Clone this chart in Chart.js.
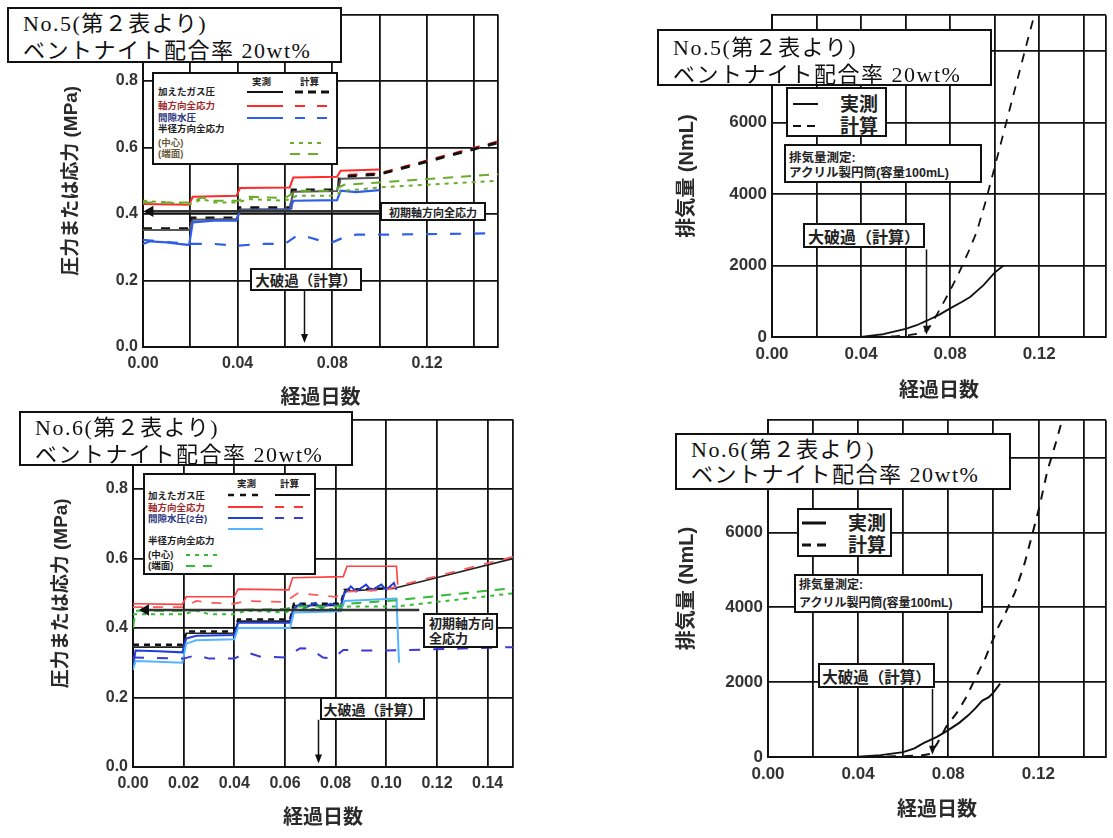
<!DOCTYPE html>
<html lang="ja">
<head>
<meta charset="utf-8">
<title>No.5 / No.6 ガス移行試験</title>
<script src="https://cdn.jsdelivr.net/npm/chart.js@4"></script>
<style>
  html, body { margin: 0; padding: 0; background: #fff; }
  body { width: 1113px; height: 838px; position: relative; overflow: hidden; }
  canvas { position: absolute; }
  .box { position: absolute; background: #fff; border: 2px solid #111; box-sizing: border-box; }
  .title { font-family: "Liberation Serif", "Noto Sans CJK JP", serif; font-size: 22px; line-height: 27px;
           letter-spacing: 1.5px; color: #111; padding-left: 14px; white-space: nowrap; }
  .note { font-family: "Liberation Sans", "Noto Sans CJK JP", sans-serif; font-weight: bold; color: #222;
          display: flex; align-items: center; justify-content: center; white-space: nowrap; }
  .lg { font-family: "Liberation Sans", "Noto Sans CJK JP", sans-serif; font-weight: bold; color: #222; }
  .lg span { position: absolute; white-space: nowrap; line-height: 1; transform: translateY(-50%); }
  .lg svg { position: absolute; left: 0; top: 0; }
</style>
</head>
<body>
<canvas id="no5Stress" width="505" height="420" style="left:0;top:0"></canvas>
<canvas id="no6Stress" width="520" height="433" style="left:0;top:405px"></canvas>
<canvas id="no5Gas" width="513" height="420" style="left:600px;top:0"></canvas>
<canvas id="no6Gas" width="513" height="433" style="left:600px;top:405px"></canvas>

<!-- No.5 pressure / stress panel -->
<div class="box lg" style="left:152px;top:72px;width:186px;height:93px;font-size:9.5px">
  <svg width="186" height="93">
    <line x1="93" y1="18" x2="129" y2="18" stroke="#111" stroke-width="2"/>
    <line x1="141" y1="18" x2="179" y2="18" stroke="#111" stroke-width="3" stroke-dasharray="8,5"/>
    <line x1="93" y1="32" x2="129" y2="32" stroke="#ff2a2a" stroke-width="2"/>
    <line x1="141" y1="32" x2="179" y2="32" stroke="#ff2a2a" stroke-width="2" stroke-dasharray="10,12"/>
    <line x1="93" y1="44" x2="129" y2="44" stroke="#2f5fe8" stroke-width="2"/>
    <line x1="141" y1="44" x2="179" y2="44" stroke="#2f5fe8" stroke-width="2" stroke-dasharray="10,12"/>
    <line x1="136" y1="69" x2="171" y2="69" stroke="#6aad2a" stroke-width="2" stroke-dasharray="4,5"/>
    <line x1="136" y1="80" x2="171" y2="80" stroke="#6aad2a" stroke-width="2" stroke-dasharray="10,8"/>
  </svg>
  <span style="left:98px;top:8px">実測</span>
  <span style="left:146px;top:8px">計算</span>
  <span style="left:4px;top:18px">加えたガス圧</span>
  <span style="left:4px;top:32px;color:#a02a2a">軸方向全応力</span>
  <span style="left:4px;top:44px;color:#2a3380">間隙水圧</span>
  <span style="left:4px;top:55px">半径方向全応力</span>
  <span style="left:4px;top:69px;color:#6a5a3a">(中心)</span>
  <span style="left:4px;top:80px;color:#6a5a3a">(端面)</span>
</div>
<div class="box note" style="left:380px;top:202px;width:106px;height:19px;font-size:11px">初期軸方向全応力</div>
<div class="box note" style="left:250px;top:268px;width:112px;height:23px;font-size:14.5px">大破過（計算）</div>
<div class="box title" style="left:7px;top:7px;width:335px;height:56px;padding-top:1px">No.5(第２表より)<br>ベントナイト配合率 20wt%</div>

<!-- No.6 pressure / stress panel -->
<div class="box lg" style="left:143px;top:473px;width:173px;height:102px;font-size:9.5px">
  <svg width="173" height="102">
    <line x1="83" y1="20" x2="118" y2="20" stroke="#111" stroke-width="2.5" stroke-dasharray="6,6"/>
    <line x1="130" y1="20" x2="165" y2="20" stroke="#111" stroke-width="2"/>
    <line x1="83" y1="32" x2="118" y2="32" stroke="#ff3535" stroke-width="2"/>
    <line x1="130" y1="32" x2="165" y2="32" stroke="#ff3535" stroke-width="2" stroke-dasharray="9,10"/>
    <line x1="83" y1="43" x2="118" y2="43" stroke="#1f3fd8" stroke-width="2"/>
    <line x1="130" y1="43" x2="165" y2="43" stroke="#3a3ad8" stroke-width="2" stroke-dasharray="9,10"/>
    <line x1="83" y1="54" x2="118" y2="54" stroke="#55b4ff" stroke-width="2"/>
    <line x1="41" y1="80" x2="74" y2="80" stroke="#33bb33" stroke-width="2" stroke-dasharray="4,5"/>
    <line x1="41" y1="91" x2="74" y2="91" stroke="#33bb33" stroke-width="2" stroke-dasharray="9,8"/>
  </svg>
  <span style="left:92px;top:9px">実測</span>
  <span style="left:135px;top:9px">計算</span>
  <span style="left:3px;top:21px">加えたガス圧</span>
  <span style="left:3px;top:33px;color:#a02a2a">軸方向全応力</span>
  <span style="left:3px;top:44px;color:#2a3380">間隙水圧(2台)</span>
  <span style="left:3px;top:66px">半径方向全応力</span>
  <span style="left:3px;top:80px">(中心)</span>
  <span style="left:3px;top:91px">(端面)</span>
</div>
<div class="box note" style="left:423px;top:613px;width:75px;height:35px;font-size:13px;line-height:15px;justify-content:flex-start;padding-left:4px">初期軸方向<br>全応力</div>
<div class="box note" style="left:320px;top:697px;width:105px;height:23px;font-size:14px">大破過（計算）</div>
<div class="box title" style="left:19px;top:411px;width:334px;height:55px;padding-top:1px">No.6(第２表より)<br>ベントナイト配合率 20wt%</div>

<!-- No.5 gas volume panel -->
<div class="box lg" style="left:786px;top:87px;width:101px;height:50px;font-size:19px">
  <svg width="101" height="50">
    <line x1="5" y1="15" x2="30" y2="15" stroke="#111" stroke-width="2"/>
    <line x1="5" y1="37" x2="30" y2="37" stroke="#111" stroke-width="2" stroke-dasharray="8,6"/>
  </svg>
  <span style="left:52px;top:15px">実測</span>
  <span style="left:52px;top:37px">計算</span>
</div>
<div class="box lg" style="left:784px;top:144px;width:198px;height:39px;font-size:12.5px">
  <span style="left:3px;top:12px">排気量測定:</span>
  <span style="left:3px;top:27px">アクリル製円筒(容量100mL)</span>
</div>
<div class="box note" style="left:803px;top:223px;width:122px;height:25px;font-size:16px">大破過（計算）</div>
<div class="box title" style="left:657px;top:29px;width:335px;height:57px;padding-top:3px">No.5(第２表より)<br>ベントナイト配合率 20wt%</div>

<!-- No.6 gas volume panel -->
<div class="box lg" style="left:797px;top:508px;width:95px;height:49px;font-size:19px">
  <svg width="95" height="49">
    <line x1="3" y1="13" x2="27" y2="13" stroke="#111" stroke-width="3"/>
    <line x1="3" y1="35" x2="27" y2="35" stroke="#111" stroke-width="3" stroke-dasharray="9,6"/>
  </svg>
  <span style="left:49px;top:13px">実測</span>
  <span style="left:49px;top:35px">計算</span>
</div>
<div class="box lg" style="left:794px;top:574px;width:189px;height:39px;font-size:12px">
  <span style="left:3px;top:9px">排気量測定:</span>
  <span style="left:3px;top:27px">アクリル製円筒(容量100mL)</span>
</div>
<div class="box note" style="left:818px;top:663px;width:117px;height:25px;font-size:15.5px">大破過（計算）</div>
<div class="box title" style="left:675px;top:433px;width:336px;height:57px;padding-top:2px;line-height:25px">No.6(第２表より)<br>ベントナイト配合率 20wt%</div>

<script>
// ---- axis ticks and labels ----
const dayTicks        = [0, 0.02, 0.04, 0.06, 0.08, 0.10, 0.12, 0.14, 0.15];
const dayLabelsSparse = ['0.00', '', '0.04', '', '0.08', '', '0.12', '', ''];
const dayLabelsFull   = ['0.00', '0.02', '0.04', '0.06', '0.08', '0.10', '0.12', '0.14', ''];
const stressTicks     = [0, 0.2, 0.4, 0.6, 0.8, 1.0];
const stressLabels    = ['0.0', '0.2', '0.4', '0.6', '0.8', ''];
const volumeTicks     = [0, 2000, 4000, 6000, 8000, 9000];
const volumeLabels    = ['0', '2000', '4000', '6000', '', ''];

// ---- No.5: pressures and stresses [days, MPa] ----
const no5GasMeasured = [[0,0.352],[0.0195,0.352],[0.021,0.383],[0.0395,0.385],[0.041,0.414],[0.062,0.415],[0.0635,0.467],[0.082,0.469],[0.0835,0.506],[0.10,0.509]];
const no5GasCalc     = [[0,0.356],[0.02,0.356],[0.0205,0.388],[0.04,0.388],[0.0405,0.419],[0.0625,0.419],[0.063,0.472],[0.0825,0.472],[0.083,0.512],[0.10,0.52],[0.15,0.615]];
const no5AxialMeasured = [[0,0.43],[0.0195,0.428],[0.021,0.452],[0.0395,0.455],[0.041,0.478],[0.062,0.48],[0.0635,0.51],[0.082,0.512],[0.0835,0.53],[0.10,0.534]];
const no5AxialCalc   = [[0.083,0.516],[0.10,0.522],[0.15,0.618]];
const no5PoreMeasured = [[0,0.31],[0.003,0.318],[0.01,0.315],[0.015,0.31],[0.0195,0.307],[0.021,0.375],[0.03,0.38],[0.0395,0.38],[0.041,0.41],[0.062,0.412],[0.0635,0.44],[0.082,0.442],[0.0835,0.47],[0.09,0.466],[0.10,0.472]];
const no5PoreCalc    = [[0,0.322],[0.02,0.31],[0.03,0.31],[0.04,0.305],[0.05,0.31],[0.06,0.31],[0.065,0.335],[0.07,0.33],[0.075,0.32],[0.08,0.315],[0.085,0.33],[0.09,0.338],[0.10,0.338],[0.15,0.342]];
const no5RadialCenter = [[0,0.44],[0.01,0.435],[0.02,0.43],[0.025,0.445],[0.03,0.435],[0.04,0.435],[0.045,0.445],[0.06,0.44],[0.065,0.455],[0.08,0.455],[0.085,0.47],[0.10,0.48],[0.15,0.50]];
const no5RadialEdge  = [[0,0.435],[0.02,0.435],[0.025,0.45],[0.03,0.44],[0.04,0.44],[0.045,0.452],[0.06,0.448],[0.065,0.47],[0.08,0.47],[0.085,0.488],[0.10,0.495],[0.15,0.52]];
const no5InitialAxial = [[0.003,0.408],[0.10,0.408]];

// ---- No.6: pressures and stresses [days, MPa] ----
const no6GasMeasured = [[0,0.352],[0.0195,0.352],[0.021,0.39],[0.04,0.39],[0.0415,0.425],[0.062,0.425],[0.0635,0.47],[0.082,0.47],[0.0835,0.51],[0.104,0.515]];
const no6GasCalc     = [[0,0.345],[0.02,0.345],[0.021,0.385],[0.04,0.385],[0.0415,0.42],[0.062,0.42],[0.0635,0.465],[0.082,0.465],[0.0835,0.505],[0.104,0.516],[0.15,0.60]];
const no6AxialMeasured = [[0,0.47],[0.0195,0.468],[0.021,0.49],[0.04,0.49],[0.0415,0.512],[0.0615,0.51],[0.063,0.545],[0.083,0.548],[0.0845,0.578],[0.104,0.578],[0.1045,0.525]];
const no6AxialCalc   = [[0,0.46],[0.02,0.46],[0.025,0.478],[0.03,0.473],[0.04,0.47],[0.045,0.478],[0.06,0.475],[0.065,0.50],[0.07,0.497],[0.08,0.49],[0.085,0.505],[0.10,0.51],[0.104,0.52],[0.15,0.605]];
const no6PoreMeasuredA = [[0,0.29],[0.001,0.335],[0.01,0.333],[0.0195,0.33],[0.021,0.37],[0.025,0.378],[0.04,0.38],[0.0415,0.415],[0.062,0.415],[0.0635,0.455],[0.066,0.47],[0.068,0.458],[0.072,0.472],[0.074,0.458],[0.078,0.47],[0.082,0.462],[0.0835,0.50],[0.086,0.52],[0.088,0.505],[0.092,0.525],[0.094,0.508],[0.098,0.525],[0.10,0.51],[0.103,0.53],[0.104,0.51]];
const no6PoreMeasuredB = [[0,0.28],[0.001,0.305],[0.01,0.303],[0.0195,0.30],[0.021,0.355],[0.025,0.365],[0.04,0.368],[0.0415,0.40],[0.062,0.40],[0.0635,0.445],[0.082,0.448],[0.0835,0.478],[0.104,0.485],[0.105,0.30]];
const no6PoreCalc    = [[0,0.315],[0.02,0.312],[0.025,0.322],[0.03,0.312],[0.04,0.312],[0.045,0.33],[0.05,0.318],[0.06,0.315],[0.066,0.342],[0.07,0.34],[0.075,0.315],[0.079,0.312],[0.083,0.337],[0.09,0.335],[0.10,0.335],[0.15,0.345]];
const no6RadialCenter = [[0,0.44],[0.02,0.44],[0.025,0.45],[0.03,0.44],[0.04,0.44],[0.045,0.45],[0.06,0.445],[0.065,0.455],[0.08,0.455],[0.085,0.462],[0.104,0.462],[0.15,0.50]];
const no6RadialEdge  = [[0,0.40],[0.001,0.45],[0.02,0.45],[0.04,0.452],[0.06,0.455],[0.065,0.462],[0.08,0.462],[0.085,0.47],[0.104,0.48],[0.15,0.515]];
const no6InitialAxial = [[0.005,0.452],[0.113,0.452]];

// ---- exhausted gas volume [days, NmL] ----
const no5VolumeMeasured = [[0,0],[0.02,0],[0.04,5],[0.05,80],[0.06,230],[0.065,330],[0.07,470],[0.075,620],[0.08,800],[0.085,970],[0.089,1120],[0.095,1450],[0.10,1800],[0.104,2000]];
const no5VolumeCalc     = [[0,0],[0.04,0],[0.055,20],[0.062,60],[0.066,100],[0.07,200],[0.074,620],[0.08,1300],[0.084,1800],[0.088,2350],[0.092,2950],[0.096,3800],[0.10,4750],[0.105,5950],[0.11,7150],[0.115,8350],[0.12,9500]];
const no6VolumeMeasured = [[0,0],[0.02,0],[0.04,5],[0.05,50],[0.06,130],[0.065,230],[0.069,370],[0.075,540],[0.08,720],[0.085,920],[0.089,1120],[0.092,1300],[0.095,1500],[0.098,1600],[0.10,1720],[0.103,1960]];
const no6VolumeCalc     = [[0,0],[0.04,0],[0.06,20],[0.068,40],[0.072,80],[0.075,350],[0.079,800],[0.084,1200],[0.088,1600],[0.092,2100],[0.0965,2650],[0.102,3450],[0.105,3800],[0.1096,4400],[0.114,5200],[0.1175,6000],[0.1205,6700],[0.124,7650],[0.128,8450],[0.1305,9000],[0.132,9300]];

// time of large breakthrough (calculated) and arrow span
const no5Breakthrough = { x: 0.068, from: 0.17, to: 0.012 };
const no6Breakthrough = { x: 0.073, from: 0.136, to: 0.01 };
const no5VolBreak     = { x: 0.069, from: 2450, to: 60 };
const no6VolBreak     = { x: 0.0726, from: 1820, to: 60 };

function series(points, color, width, dash, extra) {
  return Object.assign({
    data: points.map(p => ({ x: p[0], y: p[1] })),
    borderColor: color, borderWidth: width, borderDash: dash || [],
    pointRadius: 0, fill: false, tension: 0
  }, extra || {});
}
function initialLine(points) {
  return series(points, '#333', 2.6, [], {
    pointRadius: [4, 0], pointStyle: 'triangle', rotation: -90,
    pointBackgroundColor: '#111', pointBorderColor: '#111'
  });
}

// vertical arrow from the breakthrough note down to the time axis
const breakArrow = {
  id: 'breakArrow',
  afterDatasetsDraw(chart, args, o) {
    if (!o || o.x == null) return;
    const { ctx, scales: { x, y } } = chart;
    const px = Math.round(x.getPixelForValue(o.x)) + 0.5;
    const y0 = y.getPixelForValue(o.from), y1 = y.getPixelForValue(o.to);
    ctx.save();
    ctx.strokeStyle = '#111'; ctx.fillStyle = '#111'; ctx.lineWidth = 1.5;
    ctx.beginPath(); ctx.moveTo(px, y0); ctx.lineTo(px, y1 - 6); ctx.stroke();
    ctx.beginPath(); ctx.moveTo(px - 3.5, y1 - 9); ctx.lineTo(px + 3.5, y1 - 9); ctx.lineTo(px, y1); ctx.closePath(); ctx.fill();
    ctx.restore();
  }
};

const tickFont = size => ({ family: '"Liberation Sans", Arial, sans-serif', size, weight: 'bold' });
const titleFont = size => ({ family: '"Liberation Sans", "Noto Sans CJK JP", sans-serif', size, weight: 'bold' });

function makeChart(id, c) {
  return new Chart(document.getElementById(id), {
    type: 'line',
    data: { datasets: c.datasets },
    options: {
      responsive: false, animation: false, events: [],
      layout: { padding: c.pad },
      plugins: { legend: { display: false }, tooltip: { enabled: false }, breakArrow: c.arrow },
      scales: {
        x: {
          type: 'linear', min: 0, max: 0.15,
          afterBuildTicks: s => { s.ticks = dayTicks.map(v => ({ value: v })); },
          afterFit: s => { s.height = c.xH; },
          ticks: { autoSkip: false, maxRotation: 0, padding: 7, color: '#333', font: tickFont(c.tickSize),
                   callback: (v, i) => c.xLabels[i] },
          grid: { color: '#111', lineWidth: 1.8, drawTicks: false },
          border: { color: '#111', width: 2 },
          title: { display: true, text: '経過日数', color: '#2a2a2a', font: titleFont(20), padding: { top: 0, bottom: c.xTitlePad } }
        },
        y: {
          type: 'linear', min: c.yMin, max: c.yMax,
          afterBuildTicks: s => { s.ticks = c.yTicks.map(v => ({ value: v })); },
          afterFit: s => { s.width = c.yW; },
          ticks: { autoSkip: false, padding: 5, color: '#333', font: tickFont(c.tickSize),
                   callback: (v, i) => c.yLabels[i] },
          grid: { color: '#111', lineWidth: 1.8, drawTicks: false },
          border: { color: '#111', width: 2 },
          title: { display: true, text: c.yTitle, color: '#2a2a2a', font: titleFont(c.yTitleSize), padding: { top: c.yTitlePad, bottom: 0 } }
        }
      }
    },
    plugins: [breakArrow]
  });
}

// No.5 pressure / stress
makeChart('no5Stress', {
  pad: { top: 12, right: 6, left: 0, bottom: 0 }, xH: 73, yW: 143,
  xLabels: dayLabelsSparse, yTicks: stressTicks, yLabels: stressLabels, yMin: 0, yMax: 1.0,
  tickSize: 16, xTitlePad: 10, yTitle: '圧力または応力 (MPa)', yTitleSize: 19, yTitlePad: 60,
  arrow: no5Breakthrough,
  datasets: [
    initialLine(no5InitialAxial),
    series(no5RadialCenter, '#6aad2a', 2, [4, 5]),
    series(no5RadialEdge, '#6aad2a', 2, [10, 8]),
    series(no5PoreCalc, '#2f5fe8', 2.2, [11, 13]),
    series(no5PoreMeasured, '#2f5fe8', 2.2),
    series(no5AxialMeasured, '#ff2a2a', 2),
    series(no5GasMeasured, '#555', 2),
    series(no5GasCalc, '#111', 3, [9, 9]),
    series(no5AxialCalc, '#ff2a2a', 2.6, [9, 9], { borderDashOffset: 9 })
  ]
});

// No.6 pressure / stress
makeChart('no6Stress', {
  pad: { top: 14, right: 6, left: 0, bottom: 0 }, xH: 71, yW: 133,
  xLabels: dayLabelsFull, yTicks: stressTicks, yLabels: stressLabels, yMin: 0, yMax: 1.0,
  tickSize: 16, xTitlePad: 8, yTitle: '圧力または応力 (MPa)', yTitleSize: 19, yTitlePad: 50,
  arrow: no6Breakthrough,
  datasets: [
    initialLine(no6InitialAxial),
    series(no6RadialCenter, '#33bb33', 2, [4, 5]),
    series(no6RadialEdge, '#33bb33', 2, [10, 8]),
    series(no6PoreCalc, '#3a3ad8', 2, [11, 13]),
    series(no6AxialCalc, '#ff5a5a', 1.8, [10, 10]),
    series(no6AxialMeasured, '#ff4040', 1.6),
    series(no6PoreMeasuredB, '#55b4ff', 2),
    series(no6PoreMeasuredA, '#1f3fd8', 2),
    series(no6GasMeasured, '#111', 2.4, [6, 5]),
    series(no6GasCalc, '#222', 1.6)
  ]
});

// No.5 exhausted gas volume
makeChart('no5Gas', {
  pad: { top: 10, right: 2, left: 0, bottom: 0 }, xH: 83, yW: 172,
  xLabels: dayLabelsSparse, yTicks: volumeTicks, yLabels: volumeLabels, yMin: 0, yMax: 9000,
  tickSize: 17, xTitlePad: 17, yTitle: '排気量 (NmL)', yTitleSize: 20, yTitlePad: 75,
  arrow: no5VolBreak,
  datasets: [
    series(no5VolumeMeasured, '#111', 1.8),
    series(no5VolumeCalc, '#111', 1.8, [9, 8])
  ]
});

// No.6 exhausted gas volume
makeChart('no6Gas', {
  pad: { top: 12, right: 1, left: 0, bottom: 0 }, xH: 81, yW: 168,
  xLabels: dayLabelsSparse, yTicks: volumeTicks, yLabels: volumeLabels, yMin: 0, yMax: 9000,
  tickSize: 17, xTitlePad: 16, yTitle: '排気量 (NmL)', yTitleSize: 20, yTitlePad: 75,
  arrow: no6VolBreak,
  datasets: [
    series(no6VolumeMeasured, '#111', 2),
    series(no6VolumeCalc, '#111', 2, [9, 8])
  ]
});
</script>
</body>
</html>
